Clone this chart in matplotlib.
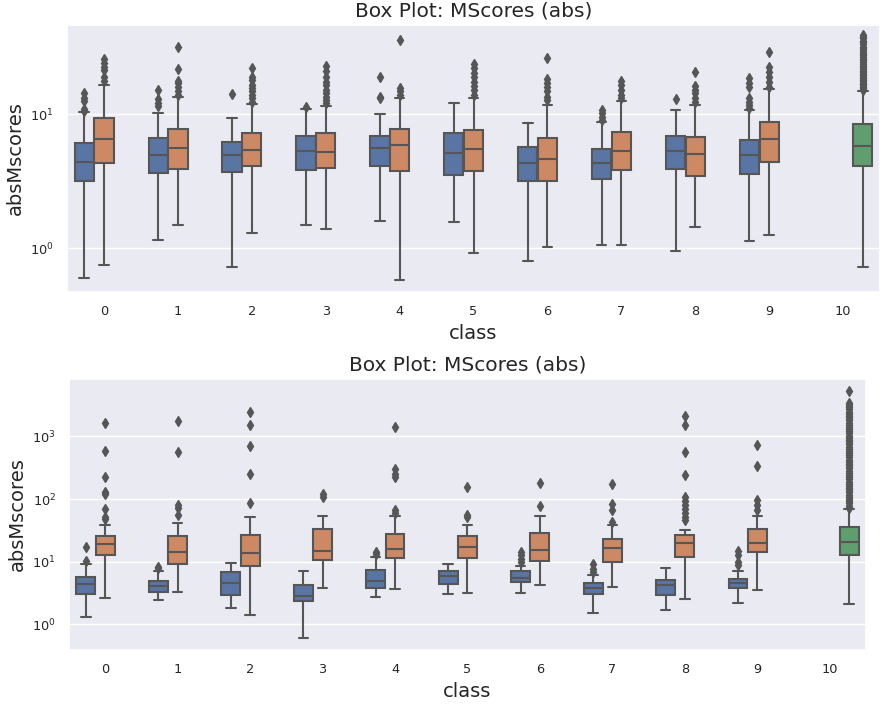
import colorsys
import numpy as np
import matplotlib
matplotlib.use("Agg")
import matplotlib.pyplot as plt
import matplotlib.colors as mcolors
import seaborn as sns

# ==========================
# DATA
# ==========================
classes = list(range(11))

# --- top panel ---
top_blue_lo  = [0.60, 1.16, 0.72, 1.48, 1.61, 1.58, 0.81, 1.06, 0.96, 1.14]
top_blue_q1  = [3.18, 3.67, 3.71, 3.84, 4.14, 3.55, 3.18, 3.29, 3.91, 3.59]
top_blue_med = [4.41, 5.00, 5.00, 5.35, 5.64, 5.15, 4.33, 4.33, 5.35, 5.00]
top_blue_q3  = [6.08, 6.70, 6.22, 6.89, 6.89, 7.26, 5.70, 5.51, 6.89, 6.43]
top_blue_hi  = [10.4, 10.2, 9.45, 11.0, 10.05, 12.2, 8.62, 8.77, 10.8, 10.7]
top_blue_fl  = [
    [10.6, 11.0, 12.5, 13.2, 14.3],
    [11.5, 12.2, 12.9, 15.2],
    [14.1],
    [11.4],
    [13.2, 13.5, 18.9],
    [],
    [],
    [9.07, 9.6, 10.2, 10.8],
    [13.0],
    [11.1, 11.7, 12.4, 13.2, 16.1, 17.0, 18.5],
]

top_orng_lo  = [0.75, 1.48, 1.31, 1.39, 0.58, 0.92, 1.02, 1.06, 1.44, 1.26]
top_orng_q1  = [4.33, 3.91, 4.14, 4.00, 3.78, 3.78, 3.18, 3.86, 3.49, 4.41]
top_orng_med = [6.58, 5.64, 5.45, 5.23, 5.94, 5.54, 4.64, 5.35, 5.06, 6.58]
top_orng_q3  = [9.45, 7.82, 7.30, 7.30, 7.82, 7.64, 6.70, 7.38, 6.77, 8.77]
top_orng_hi  = [16.6, 13.5, 11.9, 11.6, 13.3, 13.3, 11.8, 12.6, 11.8, 15.5]
top_orng_fl  = [
    [17.8, 18.9, 21.4, 22.7, 24.3, 25.7],
    [13.9, 14.8, 15.9, 17.0, 17.8, 21.7, 31.6],
    [12.4, 13.2, 13.9, 14.8, 15.6, 16.5, 18.0, 19.1, 22.0],
    [12.1, 12.8, 13.5, 14.3, 15.2, 16.5, 17.5, 19.1, 21.2, 23.1],
    [13.9, 14.8, 15.6, 35.9],
    [13.9, 15.2, 16.3, 17.5, 18.9, 20.2, 22.0, 23.9],
    [12.8, 13.5, 14.8, 15.9, 17.0, 18.3, 26.2],
    [13.2, 13.9, 15.2, 16.5, 17.8],
    [12.4, 13.2, 14.3, 15.2, 16.3, 20.6],
    [16.1, 17.5, 19.1, 20.8, 22.7, 29.0],
]

top_green_lo, top_green_q1, top_green_med = 0.73, 4.14, 5.84
top_green_q3, top_green_hi = 8.47, 15.0
top_green_fl = [15.3, 15.6, 16.0, 16.4, 16.8, 17.2, 17.7, 18.1, 18.6, 19.0,
                19.5, 20.1, 20.6, 21.2, 21.8, 22.4, 23.0, 23.7, 24.5, 25.3,
                26.0, 26.8, 27.5, 28.4, 29.3, 30.0, 31.0, 32.0, 33.2, 34.5,
                35.5, 36.8, 38.0, 39.1]

# --- bottom panel ---
bot_blue_lo  = [1.33, 2.48, 1.84, 0.61, 2.73, 3.05, 3.16, 1.52, 1.71, 2.19]
bot_blue_q1  = [3.09, 3.32, 2.94, 2.39, 3.80, 4.40, 4.74, 3.05, 2.94, 3.80]
bot_blue_med = [4.46, 4.14, 4.57, 2.87, 4.98, 5.98, 5.55, 3.75, 4.24, 4.51]
bot_blue_q3  = [5.69, 4.91, 6.92, 4.24, 7.36, 7.18, 7.18, 4.62, 5.10, 5.35]
bot_blue_hi  = [9.29, 7.18, 9.64, 7.18, 11.9, 9.29, 8.53, 6.13, 7.93, 7.18]
bot_blue_fl  = [
    [10.4, 17.4],
    [7.9, 8.1],
    [],
    [],
    [13.3, 14.4],
    [],
    [10.0, 10.9, 12.8, 14.1],
    [6.9, 7.55, 9.3],
    [],
    [8.85, 10.0, 12.8, 14.8],
]

bot_orng_lo  = [2.66, 3.28, 1.41, 3.80, 3.66, 3.20, 4.24, 3.94, 2.57, 3.57]
bot_orng_q1  = [12.9, 9.29, 8.53, 10.8, 11.4, 11.4, 10.4, 9.88, 11.9, 14.3]
bot_orng_med = [18.9, 14.4, 13.9, 14.8, 15.9, 17.4, 15.4, 16.7, 20.1, 20.1]
bot_orng_q3  = [25.7, 25.7, 26.6, 33.2, 28.0, 26.0, 28.7, 23.0, 27.0, 33.2]
bot_orng_hi  = [38.9, 41.4, 52.3, 54.2, 54.2, 38.9, 54.2, 38.9, 32.0, 54.2]
bot_orng_fl  = [
    [47.4, 52.3, 68.4, 120, 131, 222, 590, 1612],
    [55.6, 71, 80, 555, 1735],
    [87.4, 248, 710, 1535, 2415],
    [109, 120],
    [60.5, 66.7, 222, 254, 301, 1426],
    [52.3, 55.6, 153],
    [76.4, 178],
    [43.5, 66.7, 83.2, 171],
    [46.2, 52.3, 59.1, 68.4, 80.2, 94, 109, 245, 555, 1517, 2110],
    [66.7, 80.2, 96.5, 340, 718],
]

bot_green_lo, bot_green_q1, bot_green_med = 2.14, 12.8, 20.8
bot_green_q3, bot_green_hi = 35.7, 68.4
bot_green_fl = [72, 78, 85, 92, 100, 108, 117, 127, 138, 150, 162, 176, 190,
                206, 224, 242, 262, 284, 308, 334, 362, 392, 425, 460, 498,
                540, 585, 634, 687, 744, 806, 873, 946, 1025, 1110, 1203,
                1303, 1412, 1530, 1657, 1795, 1945, 2107, 2283, 2473, 2679,
                2902, 3144, 3406, 5200]

# ==========================
# STYLE
# ==========================
sns.set_theme(style="darkgrid")
plt.rcParams["font.family"] = ["DejaVu Sans"]

deep = sns.color_palette("deep")
C_BLUE = sns.desaturate(deep[0], 0.75)
C_ORNG = sns.desaturate(deep[1], 0.75)
C_GRN = sns.desaturate(deep[2], 0.75)
lum = min(colorsys.rgb_to_hls(*c)[1] for c in [C_BLUE, C_ORNG, C_GRN]) * 0.6
GRAY = mcolors.rgb2hex((lum + 0.04, lum + 0.04, lum + 0.04))

SLOT = 0.8 / 3
BOX_W = SLOT * 0.98


def make_stats(lo, q1, med, q3, hi, fl):
    return [dict(whislo=a, q1=b, med=c, q3=d, whishi=e, fliers=f)
            for a, b, c, d, e, f in zip(lo, q1, med, q3, hi, fl)]


def draw_group(ax, stats, positions, color):
    ax.bxp(stats, positions=positions, widths=BOX_W, patch_artist=True,
           showfliers=True, manage_ticks=False,
           boxprops=dict(facecolor=color, edgecolor=GRAY, linewidth=1.5),
           medianprops=dict(color=GRAY, linewidth=1.5),
           whiskerprops=dict(color=GRAY, linewidth=1.5),
           capprops=dict(color=GRAY, linewidth=1.5),
           flierprops=dict(marker="d", markerfacecolor=GRAY,
                           markeredgecolor=GRAY, markersize=5))


def panel(ax, blue, orng, green, ylim):
    pos = np.arange(10)
    draw_group(ax, make_stats(*blue), pos - SLOT, C_BLUE)
    draw_group(ax, make_stats(*orng), pos, C_ORNG)
    draw_group(ax, make_stats(*green), [10 + SLOT], C_GRN)
    ax.set_yscale("log")
    ax.set_xlim(-0.5, 10.5)
    ax.set_ylim(*ylim)
    ax.set_xticks(classes)
    ax.set_xticklabels([str(c) for c in classes])
    ax.tick_params(axis="both", labelsize=9.3)
    ax.set_title("Box Plot: MScores (abs)", fontsize=14.5)
    ax.set_xlabel("class", fontsize=14)
    ax.set_ylabel("absMscores", fontsize=14)
    ax.grid(True, which="major", axis="y")
    ax.grid(False, axis="x")
    ax.grid(False, which="minor")


fig = plt.figure(figsize=(8.89, 7.09), dpi=100)
ax1 = fig.add_axes([0.0754, 0.5882, 0.9145, 0.3766])
ax2 = fig.add_axes([0.0776, 0.0832, 0.8965, 0.3822])

panel(ax1,
      (top_blue_lo, top_blue_q1, top_blue_med, top_blue_q3, top_blue_hi, top_blue_fl),
      (top_orng_lo, top_orng_q1, top_orng_med, top_orng_q3, top_orng_hi, top_orng_fl),
      ([top_green_lo], [top_green_q1], [top_green_med], [top_green_q3],
       [top_green_hi], [top_green_fl]),
      (0.472, 46.4))

panel(ax2,
      (bot_blue_lo, bot_blue_q1, bot_blue_med, bot_blue_q3, bot_blue_hi, bot_blue_fl),
      (bot_orng_lo, bot_orng_q1, bot_orng_med, bot_orng_q3, bot_orng_hi, bot_orng_fl),
      ([bot_green_lo], [bot_green_q1], [bot_green_med], [bot_green_q3],
       [bot_green_hi], [bot_green_fl]),
      (0.39, 8200))

plt.savefig("out.png", dpi=100)
plt.close()
